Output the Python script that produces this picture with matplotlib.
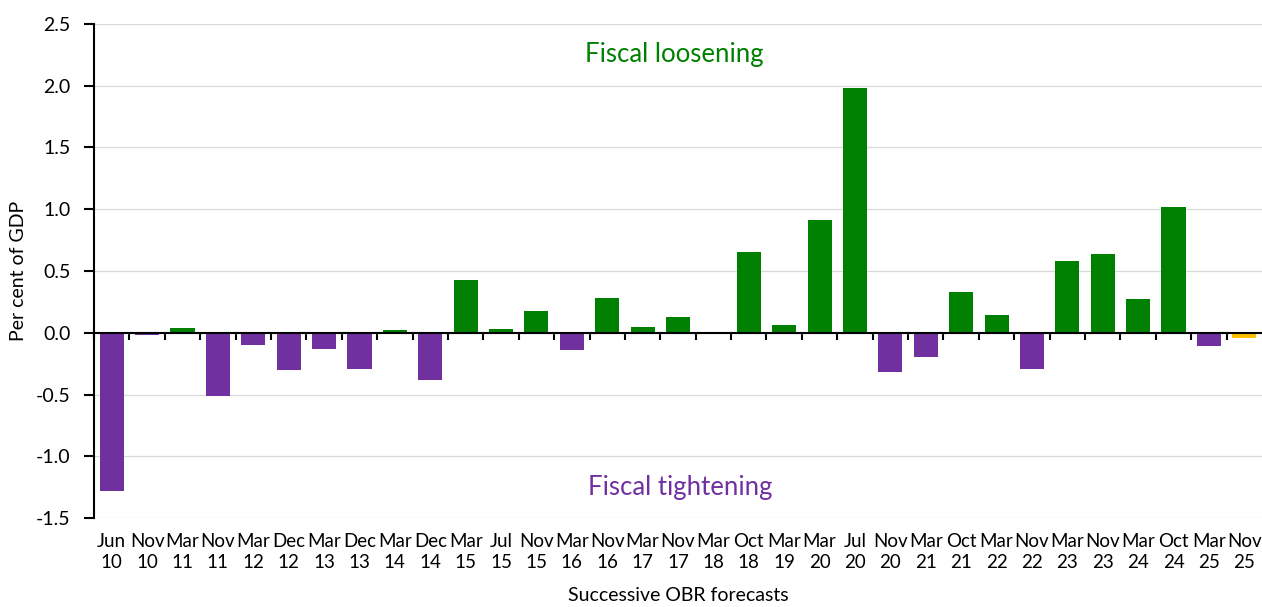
import matplotlib
matplotlib.use("Agg")
import matplotlib.pyplot as plt
import numpy as np

plt.rcParams['font.family'] = ['Lato', 'DejaVu Sans']

categories = ["Jun\n10", "Nov\n10", "Mar\n11", "Nov\n11", "Mar\n12", "Dec\n12", "Mar\n13",
              "Dec\n13", "Mar\n14", "Dec\n14", "Mar\n15", "Jul\n15", "Nov\n15", "Mar\n16",
              "Nov\n16", "Mar\n17", "Nov\n17", "Mar\n18", "Oct\n18", "Mar\n19", "Mar\n20",
              "Jul\n20", "Nov\n20", "Mar\n21", "Oct\n21", "Mar\n22", "Nov\n22", "Mar\n23",
              "Nov\n23", "Mar\n24", "Oct\n24", "Mar\n25", "Nov\n25"]
values = [-1.28, -0.02, 0.04, -0.51, -0.10, -0.30, -0.13, -0.29, 0.02, -0.38, 0.43,
          0.03, 0.18, -0.14, 0.28, 0.05, 0.13, 0.0, 0.65, 0.06, 0.91, 1.98, -0.32,
          -0.20, 0.33, 0.14, -0.29, 0.58, 0.64, 0.27, 1.02, -0.11, -0.04]
latest = "Nov\n25"
yticks = [-1.5, -1.0, -0.5, 0.0, 0.5, 1.0, 1.5, 2.0, 2.5]

GREEN = "#008000"
PURPLE = "#7030A0"
YELLOW = "#FFC000"

fig = plt.figure(figsize=(12.62, 6.07), dpi=100)
ax = fig.add_axes([0.0745, 0.1466, 0.9255, 0.8139])

x = np.arange(len(categories))
colors = []
for c, v in zip(categories, values):
    if c == latest:
        colors.append(YELLOW)
    elif v >= 0:
        colors.append(GREEN)
    else:
        colors.append(PURPLE)
ax.bar(x, values, width=0.68, color=colors, zorder=3)

ax.set_xlim(-0.5, len(categories) - 0.5)
ax.set_ylim(-1.5, 2.5)
ax.set_yticks(yticks)
ax.set_yticklabels([f"{t:.1f}" for t in yticks], fontsize=14)
ax.grid(axis='y', color='#d9d9d9', linewidth=0.9, zorder=0)
ax.tick_params(axis='y', length=7, width=1.5, direction='out', pad=10)

ax.set_xticks(x)
ax.set_xticklabels(categories, fontsize=13.5, linespacing=1.25)
ax.tick_params(axis='x', length=0, pad=11)

for s in ['top', 'right', 'bottom']:
    ax.spines[s].set_visible(False)
ax.spines['left'].set_linewidth(1.5)

# zero axis line with tick marks between categories
ax.axhline(0, color='black', linewidth=1.5, zorder=4)
sec = ax.secondary_xaxis(1.5 / 4.0)
sec.set_xticks(np.arange(-0.5, len(categories) - 0.5, 1.0))
sec.set_xticklabels([])
sec.tick_params(axis='x', length=5, width=1.5, direction='out')
sec.spines['bottom'].set_visible(False)
sec.spines['top'].set_visible(False)

ax.set_ylabel("Per cent of GDP", fontsize=14, labelpad=6)
ax.set_xlabel("Successive OBR forecasts", fontsize=14, labelpad=12)

ax.text(0.5 * (len(categories) - 1) - 0.1, 2.25, "Fiscal loosening", color=GREEN,
        fontsize=18.5, ha='center', va='center')
ax.text(0.5 * (len(categories) - 1) + 0.05, -1.25, "Fiscal tightening", color=PURPLE,
        fontsize=18.5, ha='center', va='center')

fig.savefig("out.png", dpi=100)
